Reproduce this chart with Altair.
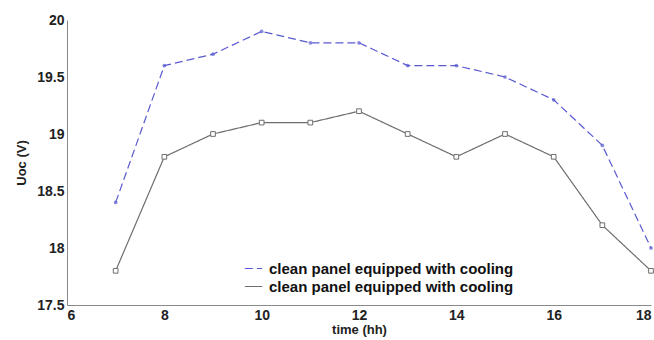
import altair as alt
import pandas as pd

hours = [7, 8, 9, 10, 11, 12, 13, 14, 15, 16, 17, 18]
uoc_blue = [18.4, 19.6, 19.7, 19.9, 19.8, 19.8, 19.6, 19.6, 19.5, 19.3, 18.9, 18.0]
uoc_gray = [17.8, 18.8, 19.0, 19.1, 19.1, 19.2, 19.0, 18.8, 19.0, 18.8, 18.2, 17.8]
series = ["a", "b"]
legend_label = "clean panel equipped with cooling"
x_ticks = [6, 8, 10, 12, 14, 16, 18]
y_ticks = [17.5, 18, 18.5, 19, 19.5, 20]

rows = []
for h, v in zip(hours, uoc_blue):
    rows.append({"time": h, "uoc": v, "series": "a"})
for h, v in zip(hours, uoc_gray):
    rows.append({"time": h, "uoc": v, "series": "b"})
df = pd.DataFrame(rows)

BLUE = "#5a5ad0"
GRAY = "#6e6e6e"
FONT = "Liberation Sans"

leg = alt.Legend(
    orient="none", legendX=177, legendY=239, title=None, padding=0,
    labelExpr="'" + legend_label + "'", labelLimit=0, labelOffset=6,
    labelFont=FONT, labelFontSize=15, labelFontWeight="bold", labelColor="#111",
    symbolType="stroke", symbolSize=300, symbolStrokeWidth=1.2, rowPadding=0,
)

base = alt.Chart(df).encode(
    x=alt.X("time:Q", scale=alt.Scale(domain=[6, 18], nice=False),
            axis=alt.Axis(values=x_ticks, title="time (hh)", labelPadding=3, titlePadding=1)),
    y=alt.Y("uoc:Q", scale=alt.Scale(domain=[17.5, 20], nice=False, zero=False),
            axis=alt.Axis(values=y_ticks, format="~g", title="Uoc (V)", labelPadding=3, titlePadding=8)),
)

color_scale = alt.Scale(domain=series, range=[BLUE, GRAY])

lines = base.mark_line(strokeWidth=1.2).encode(
    color=alt.Color("series:N", scale=color_scale, legend=leg),
    strokeDash=alt.StrokeDash("series:N", scale=alt.Scale(domain=series, range=[[8, 4], [1, 0]]), legend=leg),
)

blue_pts = base.transform_filter(alt.datum.series == "a").mark_point(
    filled=True, shape="circle", size=14
).encode(color=alt.Color("series:N", scale=color_scale, legend=None))

gray_pts = base.transform_filter(alt.datum.series == "b").mark_point(
    shape="square", size=22, fill="white", fillOpacity=1, strokeWidth=1
).encode(stroke=alt.Stroke("series:N", scale=color_scale, legend=None))

chart = (
    alt.layer(lines, blue_pts, gray_pts)
    .properties(width=584, height=285, autosize=alt.AutoSizeParams(type="none"),
                padding={"left": 67, "top": 20, "right": 3, "bottom": 35})
    .configure_view(stroke=None)
    .configure_axis(
        grid=False, domainColor="#8a8a8a", ticks=False,
        labelFont=FONT, labelFontSize=14, labelFontWeight="bold", labelColor="#222",
        titleFont=FONT, titleFontSize=13, titleFontWeight="bold", titleColor="#222",
    )
)

chart.save("out.html", embed_options={"renderer": "svg", "actions": False})
